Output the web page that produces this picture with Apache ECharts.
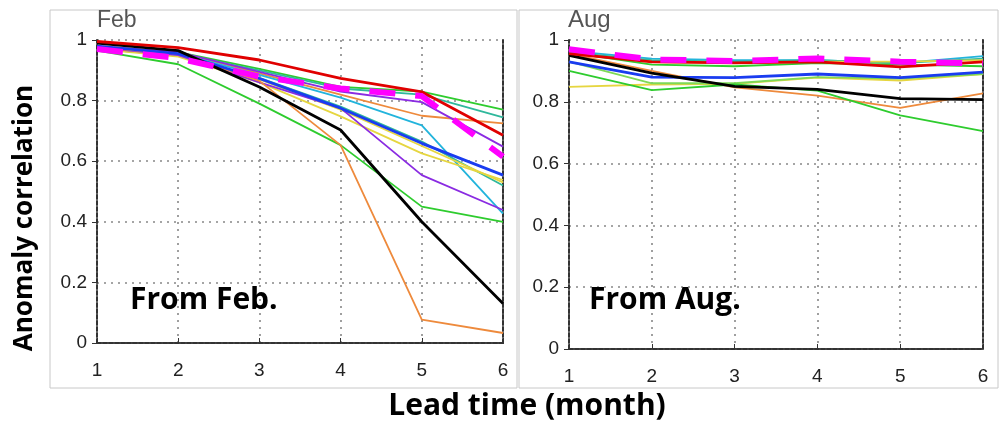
<!DOCTYPE html>
<html>
<head>
<meta charset="utf-8">
<script src="https://cdn.jsdelivr.net/npm/echarts@6/dist/echarts.min.js"></script>
<style>
  html, body { margin: 0; padding: 0; background: #fff; }
  #chart { width: 1000px; height: 425px; }
</style>
</head>
<body>
<div id="chart"></div>
<script>
// lead time (month)
const leads = ['1', '2', '3', '4', '5', '6'];

// From Feb.
const febGreenTop = [0.975, 0.96, 0.905, 0.845, 0.83, 0.77];
const febTeal = [0.97, 0.955, 0.9, 0.84, 0.82, 0.745];
const febOrangeTop = [0.975, 0.96, 0.89, 0.82, 0.75, 0.725];
const febPurpleTop = [0.98, 0.96, 0.895, 0.83, 0.795, 0.648];
const febCyanA = [0.975, 0.955, 0.885, 0.81, 0.718, 0.427];
const febCyanB = [0.97, 0.95, 0.875, 0.78, 0.665, 0.52];
const febYellowA = [0.97, 0.945, 0.86, 0.748, 0.626, 0.538];
const febYellowB = [0.97, 0.95, 0.87, 0.77, 0.65, 0.53];
const febPurpleLow = [0.975, 0.95, 0.86, 0.775, 0.554, 0.439];
const febGreenLow = [0.965, 0.92, 0.79, 0.653, 0.45, 0.4];
const febOrangeLow = [0.975, 0.955, 0.865, 0.653, 0.077, 0.033];
const febBlue = [0.98, 0.955, 0.873, 0.775, 0.659, 0.554];
const febBlack = [0.99, 0.965, 0.845, 0.703, 0.4, 0.13];
const febRed = [0.995, 0.975, 0.934, 0.873, 0.829, 0.686];
const febMagenta = [0.97, 0.94, 0.879, 0.84, 0.815, 0.615];

// From Aug.
const augCyan = [0.965, 0.94, 0.935, 0.935, 0.925, 0.948];
const augGreenTop = [0.96, 0.935, 0.93, 0.935, 0.925, 0.94];
const augYellowTop = [0.955, 0.93, 0.925, 0.93, 0.93, 0.935];
const augTeal = [0.96, 0.92, 0.915, 0.925, 0.92, 0.915];
const augYellowLow = [0.848, 0.856, 0.858, 0.878, 0.869, 0.89];
const augGreenMid = [0.93, 0.86, 0.86, 0.88, 0.875, 0.89];
const augOrange = [0.955, 0.9, 0.847, 0.82, 0.78, 0.827];
const augGreenLow = [0.9, 0.838, 0.856, 0.836, 0.756, 0.705];
const augBlue = [0.929, 0.88, 0.878, 0.89, 0.878, 0.896];
const augBlack = [0.95, 0.893, 0.85, 0.84, 0.81, 0.807];
const augRed = [0.956, 0.929, 0.926, 0.929, 0.913, 0.929];
const augMagenta = [0.97, 0.937, 0.932, 0.94, 0.93, 0.924];

const C = {
  red: '#e00000', magenta: '#ff00ff', black: '#000000', blue: '#1a3cf0',
  orange: '#ee8a3c', green: '#2ecc2e', purple: '#8a2be2', cyan: '#22b4dc',
  yellow: '#e6d640', teal: '#2fb89c', lgreen: '#7ed957'
};

function thin(data, color, gi) {
  return { type: 'line', data, xAxisIndex: gi * 2, yAxisIndex: gi * 2, symbol: 'none',
    lineStyle: { color, width: 1.8 }, silent: true };
}
function thick(data, color, gi) {
  return { type: 'line', data, xAxisIndex: gi * 2, yAxisIndex: gi * 2, symbol: 'none',
    lineStyle: { color, width: 2.8 }, silent: true };
}
function dashed(data, gi) {
  return { type: 'line', data, xAxisIndex: gi * 2, yAxisIndex: gi * 2, symbol: 'none', z: 5,
    lineStyle: { color: C.magenta, width: 6, type: [26, 20] }, silent: true };
}

const frame = { show: true, lineStyle: { color: '#333', width: 2, type: [4, 2] } };
const labelFont = { fontFamily: 'Liberation Sans', fontSize: 19, color: '#222' };
const grid = { show: true, lineStyle: { color: '#888', width: 1.6, type: [2, 5] } };

function axesFor(gi) {
  const xs = [
    { type: 'category', gridIndex: gi, data: leads, boundaryGap: false,
      axisLine: frame, axisTick: { show: true, inside: true, length: 5, lineStyle: { color: '#333' } },
      axisLabel: Object.assign({ margin: 18 }, labelFont), splitLine: grid },
    { type: 'category', gridIndex: gi, data: leads, boundaryGap: false, position: 'top',
      axisLine: frame, axisTick: { show: false }, axisLabel: { show: false }, splitLine: { show: false } }
  ];
  const ys = [
    { type: 'value', gridIndex: gi, min: 0, max: 1, interval: 0.2,
      axisLine: frame, axisTick: { show: true, length: 5, lineStyle: { color: '#333' } },
      axisLabel: Object.assign({ margin: 10, formatter: v => String(Math.round(v * 10) / 10) }, labelFont),
      splitLine: grid },
    { type: 'value', gridIndex: gi, min: 0, max: 1, interval: 0.2, position: 'right',
      axisLine: frame, axisTick: { show: false }, axisLabel: { show: false }, splitLine: { show: false } }
  ];
  return { xs, ys };
}

const a0 = axesFor(0), a1 = axesFor(1);

const series = [
  thin(febGreenTop, C.green, 0), thin(febTeal, C.teal, 0), thin(febOrangeTop, C.orange, 0),
  thin(febPurpleTop, C.purple, 0), thin(febCyanA, C.cyan, 0), thin(febCyanB, C.teal, 0),
  thin(febYellowA, C.yellow, 0), thin(febYellowB, C.yellow, 0), thin(febPurpleLow, C.purple, 0),
  thin(febGreenLow, C.green, 0), thin(febOrangeLow, C.orange, 0),
  thick(febBlue, C.blue, 0), thick(febBlack, C.black, 0), thick(febRed, C.red, 0),
  dashed(febMagenta, 0),
  thin(augCyan, C.cyan, 1), thin(augGreenTop, C.teal, 1), thin(augYellowTop, C.yellow, 1),
  thin(augTeal, C.green, 1), thin(augYellowLow, C.yellow, 1), thin(augGreenMid, C.lgreen, 1),
  thin(augOrange, C.orange, 1), thin(augGreenLow, C.green, 1),
  thick(augBlue, C.blue, 1), thick(augBlack, C.black, 1), thick(augRed, C.red, 1),
  dashed(augMagenta, 1)
];

const chart = echarts.init(document.getElementById('chart'));
chart.setOption({
  animation: false,
  backgroundColor: '#fff',
  grid: [
    { left: 97, top: 40, width: 406, height: 303 },
    { left: 569, top: 40, width: 414, height: 309 }
  ],
  xAxis: a0.xs.concat(a1.xs),
  yAxis: a0.ys.concat(a1.ys),
  series,
  graphic: [
    { type: 'rect', shape: { x: 50, y: 10, width: 467, height: 378 }, z: -1,
      style: { fill: 'none', stroke: '#c8c8c8', lineWidth: 1 } },
    { type: 'rect', shape: { x: 519, y: 10, width: 479, height: 378 }, z: -1,
      style: { fill: 'none', stroke: '#c8c8c8', lineWidth: 1 } },
    { type: 'text', x: 97, y: 9, style: { text: 'Feb', fontFamily: 'Liberation Sans', fontSize: 23, fill: '#555' } },
    { type: 'text', x: 568, y: 8, style: { text: 'Aug', fontFamily: 'Liberation Sans', fontSize: 24, fill: '#555' } },
    { type: 'text', x: 130, y: 300, z: 10, style: { text: 'From Feb.', fontFamily: 'Open Sans', fontWeight: 'bold', fontSize: 30, fill: '#000', verticalAlign: 'middle' } },
    { type: 'text', x: 589, y: 300, z: 10, style: { text: 'From Aug.', fontFamily: 'Open Sans', fontWeight: 'bold', fontSize: 30, fill: '#000', verticalAlign: 'middle' } },
    { type: 'text', x: 527, y: 406, style: { text: 'Lead time (month)', fontFamily: 'Open Sans', fontWeight: 'bold', fontSize: 30, fill: '#000', align: 'center', verticalAlign: 'middle' } },
    { type: 'text', x: 25, y: 218, rotation: Math.PI / 2, style: { text: 'Anomaly correlation', fontFamily: 'Open Sans', fontWeight: 'bold', fontSize: 26, fill: '#000', align: 'center', verticalAlign: 'middle' } }
  ]
});
</script>
</body>
</html>
